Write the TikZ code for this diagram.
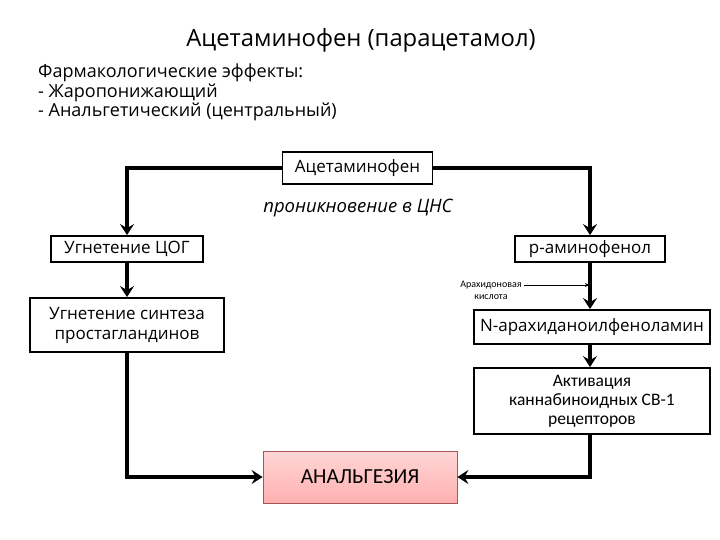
\documentclass[tikz,border=0pt]{standalone}
\usepackage{fontspec}
\setmainfont{Open Sans}
\newfontfamily\calib{Carlito}
\usetikzlibrary{arrows.meta}
\definecolor{pinktop}{RGB}{255,214,214}
\definecolor{pinkbot}{RGB}{255,176,176}
\definecolor{pinkedge}{RGB}{165,85,85}
\tikzset{
  box/.style={draw, line width=1.8pt, inner sep=0pt, align=center, font=\fontsize{17}{20}\selectfont},
  flow/.style={line width=3.6pt, -{Stealth[length=11pt,width=14pt,inset=4pt]}},
  thinarrow/.style={line width=0.7pt, -{Stealth[length=4pt,width=4pt]}},
}
\begin{document}
\begin{tikzpicture}[x=1pt,y=-1pt]
\useasboundingbox[fill=white] (0,0) rectangle (720,540);
\node[font=\fontsize{23.8}{26}\selectfont] (title) at (361,40) {Ацетаминофен (парацетамол)};
\node[anchor=north west, align=left, inner sep=0pt, font=\fontsize{18}{19.5}\selectfont] (effects) at (38,64)
  {Фармакологические эффекты:\\- Жаропонижающий\\- Анальгетический (центральный)};
\node[box, minimum width=150pt, minimum height=32pt] (acet) at (357.5,168) {Ацетаминофен};
\node[font=\itshape\fontsize{18.5}{20}\selectfont] (cns) at (358,208) {проникновение в ЦНС};
\node[box, minimum width=152pt, minimum height=26pt] (cog) at (127,249) {Угнетение ЦОГ};
\node[box, minimum width=194pt, minimum height=54pt] (synth) at (127,325) {Угнетение синтеза\\простагландинов};
\node[box, minimum width=150pt, minimum height=26pt] (pam) at (590,249) {р-аминофенол};
\node[box, minimum width=236pt, minimum height=34pt] (nar) at (592,327) {N-арахиданоилфеноламин};
\node[box, minimum width=236pt, minimum height=66pt, font=\calib\fontsize{17.5}{19}\selectfont] (act) at (592,401)
  {Активация\\каннабиноидных CB-1\\рецепторов};
\node[draw=pinkedge, line width=0.8pt, top color=pinktop, bottom color=pinkbot, minimum width=194pt, minimum height=52pt,
  font=\calib\fontsize{21.5}{23}\selectfont] (anal) at (360,477) {АНАЛЬГЕЗИЯ};
\node[font=\calib\fontsize{10}{12}\selectfont, align=center, inner sep=0pt] (arach) at (491,290) {Арахидоновая\\кислота};
\coordinate (arstart) at (524,285);
\coordinate (arend) at (589,285);
\draw[flow] (acet.west) -| (cog.north);
\draw[flow] (acet.east) -| (pam.north);
\draw[flow] (cog.south) -- (synth.north);
\draw[flow] (pam.south) -- (pam.south |- nar.north);
\draw[flow] (nar.south -| pam.south) -- (pam.south |- act.north);
\draw[flow] (synth.south) |- (anal.west);
\draw[flow] (act.south -| pam.south) |- (anal.east);
\draw[thinarrow] (arstart) -- (arend);
\end{tikzpicture}
\end{document}
